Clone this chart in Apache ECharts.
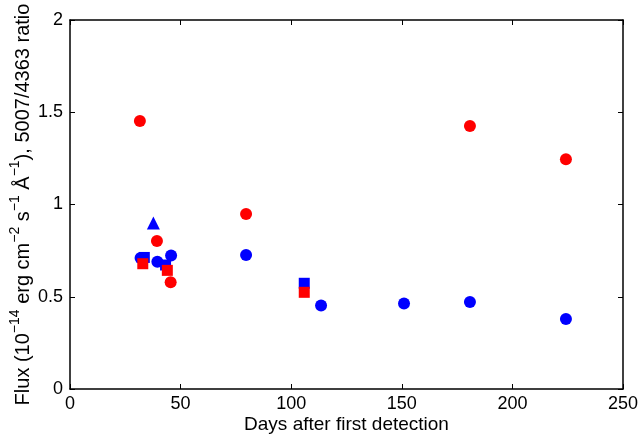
<!DOCTYPE html>
<html>
<head>
<meta charset="utf-8">
<script src="https://cdn.jsdelivr.net/npm/echarts@6/dist/echarts.min.js"></script>
<style>
  html, body { margin: 0; padding: 0; background: #fff; }
  #chart { width: 640px; height: 439px; }
</style>
</head>
<body>
<div id="chart"></div>
<script>
// values: [days, value]
const blueCircles = [[31.9, 0.71], [39.5, 0.69], [45.7, 0.724], [79.6, 0.726], [113.5, 0.453], [151, 0.464], [180.8, 0.472], [224.2, 0.379]]
const blueSquares = [[33.6, 0.713], [43.2, 0.672], [105.9, 0.573]]
const blueTriangles = [[37.7, 0.9]]
const redCircles = [[31.6, 1.453], [39.3, 0.802], [45.5, 0.578], [79.6, 0.948], [180.8, 1.425], [224.2, 1.245]]
const redSquares = [[32.9, 0.679], [44.0, 0.643], [105.9, 0.524]]

const xRange = { min: 0, max: 250, interval: 50 }
const yRange = { min: 0, max: 2, interval: 0.5 }

const font = 'Liberation Sans, Arial, sans-serif'
const axisLine = { show: true, onZero: false, lineStyle: { color: '#000', width: 1.5 } }
const tick = { show: true, inside: true, length: 5, lineStyle: { color: '#000', width: 1 } }

const chart = echarts.init(document.getElementById('chart'))

const scatter = (data, symbol, size, color) => ({
  type: 'scatter',
  data: data,
  symbol: symbol,
  symbolSize: size,
  itemStyle: { color: color, opacity: 1 },
  emphasis: { disabled: true },
  animation: false
})

chart.setOption({
  animation: false,
  backgroundColor: '#fff',
  grid: { left: 70, right: 17, top: 20, bottom: 50, outerBoundsMode: 'none', containLabel: false },
  xAxis: [
    {
      type: 'value', ...xRange, position: 'bottom',
      name: 'Days after first detection',
      nameLocation: 'middle', nameGap: 26, nameMoveOverlap: false,
      nameTextStyle: { fontFamily: font, fontSize: 19, color: '#000' },
      axisLine, axisTick: tick, splitLine: { show: false },
      axisLabel: { fontFamily: font, fontSize: 18, color: '#000', margin: 6 }
    },
    {
      type: 'value', ...xRange, position: 'top',
      axisLine, axisTick: tick, splitLine: { show: false },
      axisLabel: { show: false }
    }
  ],
  yAxis: [
    {
      type: 'value', ...yRange, position: 'left',
      name: '{n|Flux (10}{s|−14}{n| erg cm}{s|−2}{n| s}{s|−1}{n| Å}{s|−1}{n|), 5007/4363 ratio}',
      nameLocation: 'middle', nameGap: 37, nameMoveOverlap: false,
      nameTextStyle: {
        fontFamily: font, fontSize: 20, color: '#000',
        rich: {
          n: { fontFamily: font, fontSize: 20, color: '#000', lineHeight: 25, verticalAlign: 'bottom' },
          s: { fontFamily: font, fontSize: 14, color: '#000', lineHeight: 15, verticalAlign: 'top' }
        }
      },
      axisLine, axisTick: tick, splitLine: { show: false },
      axisLabel: { fontFamily: font, fontSize: 18, color: '#000', margin: 7 }
    },
    {
      type: 'value', ...yRange, position: 'right',
      axisLine, axisTick: tick, splitLine: { show: false },
      axisLabel: { show: false }
    }
  ],
  series: [
    scatter(blueCircles, 'circle', 12, '#0000ff'),
    scatter(blueSquares, 'rect', 11, '#0000ff'),
    scatter(blueTriangles, 'triangle', 13, '#0000ff'),
    scatter(redCircles, 'circle', 12, '#ff0000'),
    scatter(redSquares, 'rect', 11, '#ff0000')
  ]
})
</script>
</body>
</html>
